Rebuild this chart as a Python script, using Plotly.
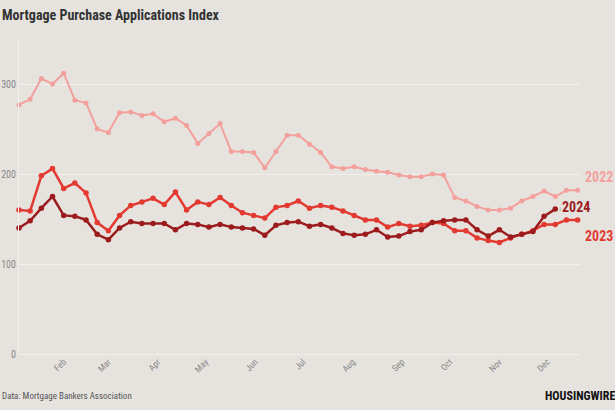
import pandas as pd
import plotly.graph_objects as go

# ---- data (weekly index values) ----
weeks_start = "2023-01-04"  # nominal year used to place weeks along the month axis

idx_2022 = [277, 283, 306, 300, 312, 282, 279, 250, 246, 268, 269, 265, 267, 258, 262, 254,
            234, 245, 256, 225, 225, 224, 207, 225, 243, 243, 233, 224, 208, 206, 208, 205,
            203, 202, 199, 197, 197, 200, 199, 174, 170, 164, 160, 160, 162, 170, 175, 181,
            175, 182, 182]
idx_2023 = [160, 159, 198, 206, 184, 190, 179, 146, 137, 154, 165, 169, 173, 166, 180, 160,
            169, 166, 174, 165, 157, 154, 151, 163, 165, 170, 162, 165, 163, 159, 154, 149,
            149, 141, 145, 142, 143, 146, 145, 137, 137, 129, 126, 124, 129, 133, 137, 144,
            144, 149, 149]
idx_2024 = [140, 148, 162, 175, 154, 153, 149, 133, 127, 140, 147, 145, 145, 145, 138, 145,
            144, 141, 144, 141, 140, 139, 132, 143, 146, 147, 142, 144, 140, 134, 132, 133,
            138, 130, 131, 136, 138, 146, 148, 149, 149, 138, 131, 138, 130, 133, 136, 153,
            161]

month_labels = ["Feb", "Mar", "Apr", "May", "Jun", "Jul", "Aug", "Sep", "Oct", "Nov", "Dec"]
month_starts = ["2023-02-01", "2023-03-01", "2023-04-01", "2023-05-01", "2023-06-01", "2023-07-01",
                "2023-08-01", "2023-09-01", "2023-10-01", "2023-11-01", "2023-12-01"]
y_ticks = [0, 100, 200, 300]

series = [
    ("2022", idx_2022, "#f3a09c", 2.0, 5, 13),
    ("2023", idx_2023, "#e23a31", 2.5, 5.5, -16),
    ("2024", idx_2024, "#9c1c1e", 2.5, 5.5, 2),
]

COND = "Roboto Condensed, Liberation Sans Narrow, Arial Narrow, DejaVu Sans Condensed, Roboto, sans-serif"
BG = "#e6e3df"
GRID = "#f2f0ed"
L, R, T, B = 19, 35, 39, 56
PW = 615 - L - R
PH = 410 - T - B

fig = go.Figure()
for name, vals, color, lw, ms, _ in series:
    dates = pd.date_range(weeks_start, periods=len(vals), freq="7D")
    fig.add_trace(go.Scatter(x=dates, y=vals, mode="lines+markers", name=name,
                             line=dict(color=color, width=lw, shape="linear"),
                             marker=dict(color=color, size=ms), showlegend=False,
                             cliponaxis=False))

# end labels with connectors
for name, vals, color, lw, ms, yshift in series:
    dates = pd.date_range(weeks_start, periods=len(vals), freq="7D")
    xe, ye = dates[-1], vals[-1]
    if name == "2024":
        fig.add_shape(type="line", xref="x", yref="y", xsizemode="pixel", ysizemode="pixel",
                      xanchor=xe, yanchor=ye, x0=5, x1=5, y0=-2, y1=2,
                      line=dict(color="#b9b6b2", width=1))
    else:
        fig.add_shape(type="line", xref="x", yref="y", xsizemode="pixel", ysizemode="pixel",
                      xanchor=xe, yanchor=ye, x0=4, x1=4, y0=0,
                      y1=yshift + (3 if yshift > 0 else -1),
                      line=dict(color="#b9b6b2", width=1))
    fig.add_annotation(x=xe, y=ye, text="<b>%s</b>" % name, showarrow=False,
                       xanchor="left", yanchor="middle", xshift=5, yshift=yshift,
                       font=dict(family=COND, size=14, color=color))

fig.add_annotation(xref="paper", yref="paper", x=-L / PW, y=1 + (T - 15) / PH, xanchor="left",
                   yanchor="middle", showarrow=False,
                   text="<b>Mortgage Purchase Applications Index</b>",
                   font=dict(family=COND, size=14, color="#333"))
fig.add_annotation(xref="paper", yref="paper", x=-L / PW, y=-(396 - T - PH) / PH, xanchor="left",
                   yanchor="middle", showarrow=False, text="Data: Mortgage Bankers Association",
                   font=dict(family=COND, size=9, color="#555"))
fig.add_annotation(xref="paper", yref="paper", x=(617 - L) / PW, y=-(396 - T - PH) / PH,
                   xanchor="right", yanchor="middle", showarrow=False, text="<b>HOUSINGWIRE</b>",
                   font=dict(family=COND, size=12, color="#111"))

fig.update_layout(
    width=615, height=410,
    paper_bgcolor=BG, plot_bgcolor=BG,
    margin=dict(l=L, r=R, t=T, b=B, autoexpand=False),
    xaxis=dict(type="date", range=["2023-01-04", "2023-12-21 12:00"], automargin=False,
               tickvals=month_starts, ticktext=month_labels, tickangle=-45,
               showgrid=False, zeroline=False, showline=False, ticks="",
               tickfont=dict(family=COND, size=9, color="#888")),
    yaxis=dict(range=[0, 350], tickvals=y_ticks, showgrid=True, gridcolor=GRID, gridwidth=1,
               automargin=False,
               zeroline=True, zerolinecolor=GRID, zerolinewidth=1,
               showline=True, linecolor=GRID, linewidth=1, ticks="",
               tickfont=dict(family=COND, size=10, color="#888")),
)

fig.write_html("out.html", config={"displayModeBar": False})

# remove the browser's default page margin so the figure sits at the window's corner
with open("out.html", "r", encoding="utf-8") as f:
    html = f.read()
html = html.replace("<head>", "<head><style>html,body{margin:0;padding:0;background:%s;}</style>" % BG, 1)
with open("out.html", "w", encoding="utf-8") as f:
    f.write(html)
